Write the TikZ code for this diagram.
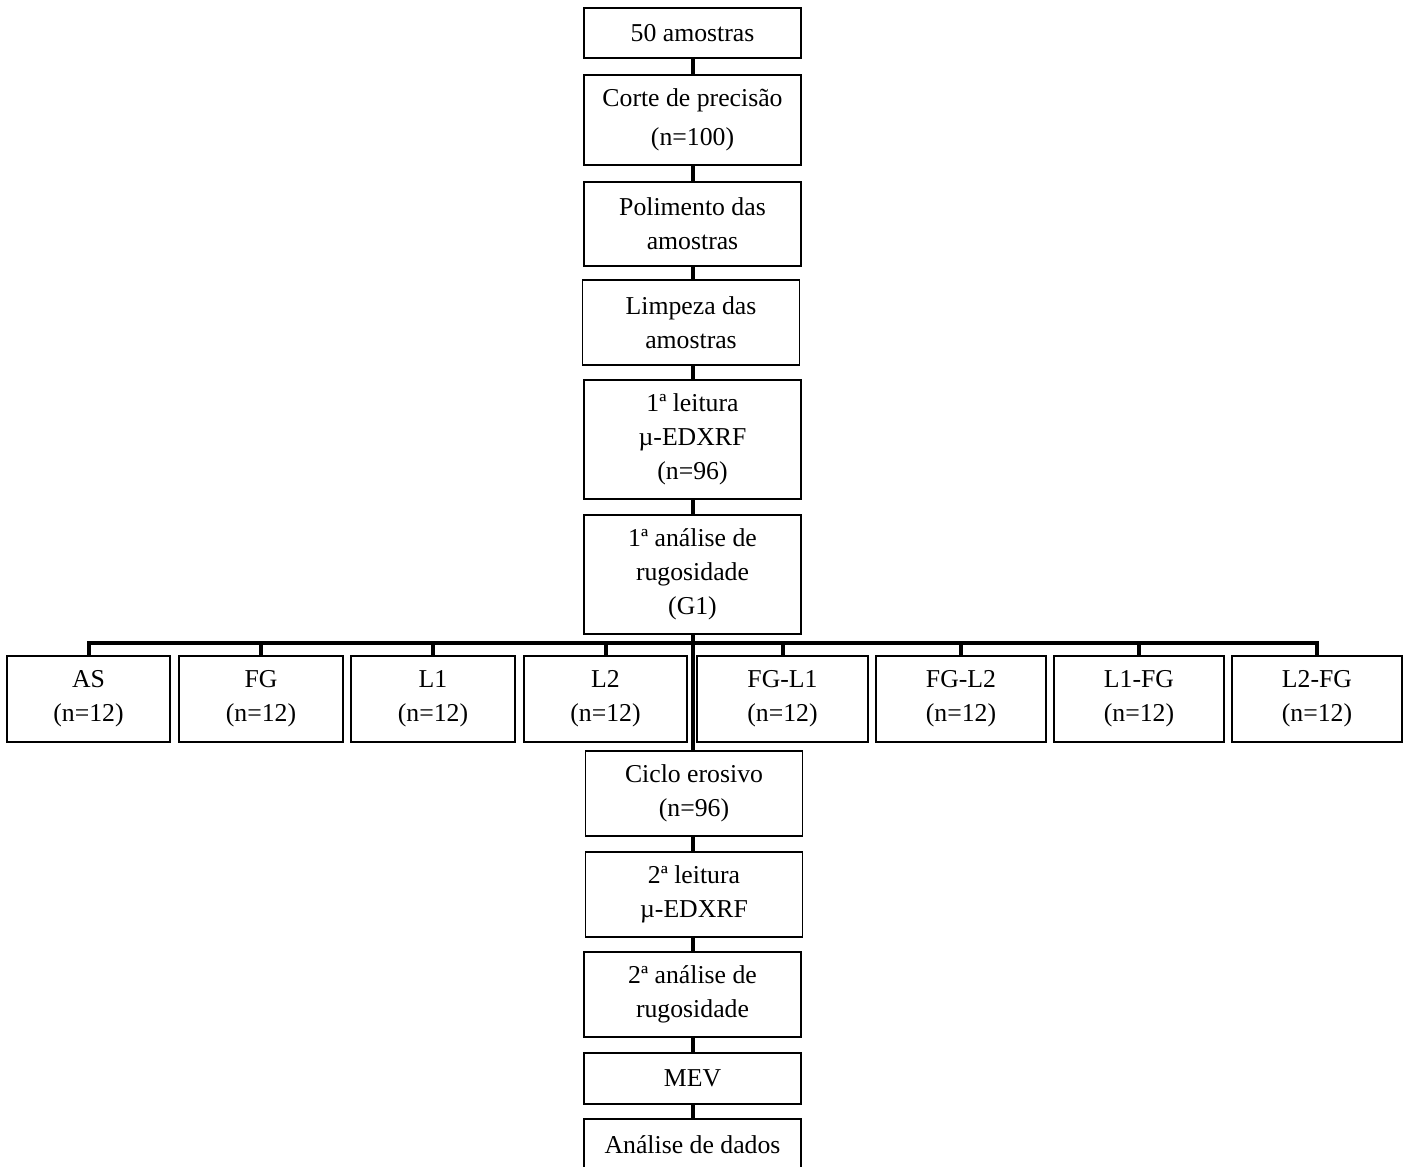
\documentclass[tikz,border=0pt]{standalone}
\usepackage{fontspec}
\setmainfont{Liberation Serif}
\begin{document}
\begin{tikzpicture}[x=0.75pt,y=-0.75pt,
 bx/.style n args={2}{draw, line width=1.4pt, minimum width=#1*0.75pt, minimum height=#2*0.75pt, inner sep=0pt, align=center, font=\fontsize{19.3}{25.5}\selectfont},
 conn/.style={line width=3pt}]
\useasboundingbox (0,0) rectangle (1408,1166);
% main column
\node[bx={217}{50}]  (a1) at (692.5,33)   {50 amostras};
\node[bx={217}{90}]  (a2) at (692.5,120)  {Corte de precisão\\[3.5pt](n=100)};
\node[bx={217}{84}]  (a3) at (692.5,224)  {Polimento das\\amostras};
\node[bx={217}{85}]  (a4) at (691,322.5)  {Limpeza das\\amostras};
\node[bx={217}{119}] (a5) at (692.5,439.5){1ª leitura\\µ-EDXRF\\(n=96)};
\node[bx={217}{119}] (a6) at (692.5,574.5){1ª análise de\\rugosidade\\(G1)};
% groups
\node[bx={163}{86}] (g1) at (88.5,699)  {AS\\(n=12)};
\node[bx={164}{86}] (g2) at (261,699)   {FG\\(n=12)};
\node[bx={164}{86}] (g3) at (433,699)   {L1\\(n=12)};
\node[bx={163}{86}] (g4) at (605.5,699) {L2\\(n=12)};
\node[bx={171}{86}] (g5) at (782.5,699) {FG-L1\\(n=12)};
\node[bx={170}{86}] (g6) at (961,699)   {FG-L2\\(n=12)};
\node[bx={170}{86}] (g7) at (1139,699)  {L1-FG\\(n=12)};
\node[bx={170}{86}] (g8) at (1317,699)  {L2-FG\\(n=12)};
% lower column
\node[bx={217}{85}] (b1) at (694,793.5) {Ciclo erosivo\\(n=96)};
\node[bx={217}{85}] (b2) at (694,894.5) {2ª leitura\\µ-EDXRF};
\node[bx={217}{85}] (b3) at (692.5,994.5) {2ª análise de\\rugosidade};
\node[bx={217}{51}] (b4) at (692.5,1078.5){MEV};
\node[bx={217}{52}] (b5) at (692.5,1145)  {Análise de dados};
% connectors
\coordinate (bar) at (692.5,643);
\draw[conn] (a1.south) -- (a1.south |- a2.north);
\draw[conn] (a2.south) -- (a2.south |- a3.north);
\draw[conn] (a3.south) -- (a3.south |- a4.north);
\draw[conn] (a4.south -| a5.south) -- (a5.north);
\draw[conn] (a5.south) -- (a6.north);
\draw[conn] (a6.south) -- (a6.south |- b1.north);
\draw[conn] (b1.south -| a6.south) -- (b2.north -| a6.south);
\draw[conn] (b2.south -| b3.south) -- (b3.north);
\draw[conn] (b3.south) -- (b4.north);
\draw[conn] (b4.south) -- (b5.north);
\draw[conn,line cap=rect] (g1.north |- bar) -- (g8.north |- bar);
\foreach \g in {g1,g2,g3,g4,g5,g6,g7,g8}
  \draw[conn] (\g.north |- bar) -- (\g.north);
\end{tikzpicture}
\end{document}
